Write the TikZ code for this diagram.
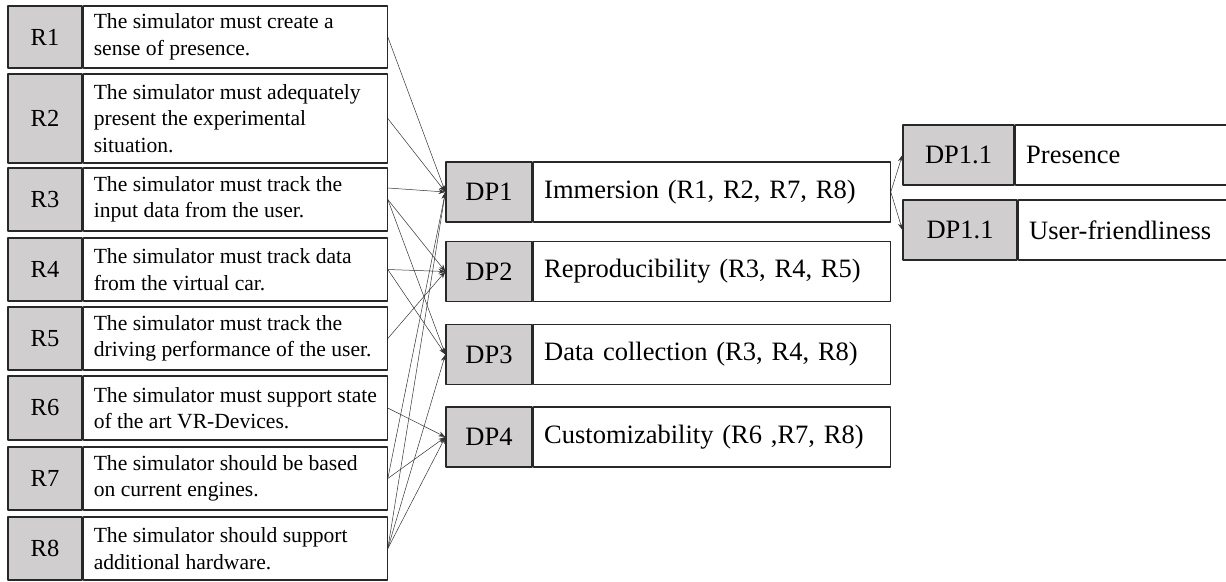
\documentclass[tikz,border=0pt]{standalone}
\usepackage{fontspec}
\setmainfont{Liberation Serif}
\usetikzlibrary{arrows.meta}
\definecolor{boxgray}{RGB}{208,206,206}
\definecolor{boxline}{RGB}{40,40,40}
\newcommand{\rfont}{\fontsize{24.5}{26}\selectfont}
\newcommand{\tfont}{\fontsize{21.6}{26.5}\selectfont}
\newcommand{\dpfont}{\fontsize{26.5}{30}\selectfont}
\tikzset{
  idbox/.style={draw=boxline, line width=1.2pt, fill=boxgray, inner sep=0pt},
  txtbox/.style={draw=boxline, line width=1.2pt, fill=white, inner xsep=11pt, inner ysep=0pt, align=left, anchor=west},
  reqtext/.style={inner sep=0pt, align=left, anchor=west, font=\tfont},
  link/.style={->, line width=0.5pt, draw=black!80},
}
\begin{document}
\begin{tikzpicture}[x=1pt, y=-1pt, >={Stealth[length=7pt,width=5pt]}, line join=round]
    \useasboundingbox (0,0) rectangle (1226,581);
    \clip (0,0) rectangle (1226,581);
    % requirements
    \foreach \i/\yc/\h/\txt in {
        1/37/62/{The simulator must create a\\sense of presence.},
        2/118.5/89/{The simulator must adequately\\present the experimental\\situation.},
        3/199.5/63/{The simulator must track the\\input data from the user.},
        4/269.5/63/{The simulator must track data\\from the virtual car.},
        5/338.5/63/{The simulator must track the\\driving performance of the user.},
        6/408/64/{The simulator must support state\\of the art VR-Devices.},
        7/478.5/63/{The simulator should be based\\on current engines.},
        8/548.5/63/{The simulator should support\\additional hardware.}}
    {
        \node[idbox, minimum width=74pt, minimum height=\h pt, font=\rfont] (R\i) at (45,\yc) {R\i};
        \node[txtbox, minimum width=304pt, minimum height=\h pt] (Rt\i) at (R\i.east) {};
        \node[reqtext] (Rx\i) at ([xshift=11pt]Rt\i.west) {\txt};
    }
    % design parameters
    \foreach \i/\yc/\txt in {
        1/192/{Immersion (R1, R2, R7, R8)},
        2/271.5/{Reproducibility (R3, R4, R5)},
        3/354.5/{Data collection (R3, R4, R8)},
        4/437/{Customizability (R6 ,R7, R8)}}
    {
        \node[idbox, minimum width=86pt, minimum height=60pt, font=\dpfont] (DP\i) at (489,\yc) {DP\i};
        \node[txtbox, minimum width=357pt, text width=335pt, minimum height=60pt, font=\dpfont] (DPt\i) at (DP\i.east) {\txt};
    }
    \node[idbox, minimum width=111pt, minimum height=60pt, font=\dpfont] (DPa) at (958.5,155) {DP1.1};
    \node[txtbox, minimum width=226pt, text width=204pt, minimum height=60pt, font=\dpfont] (DPta) at (DPa.east) {Presence};
    \node[idbox, minimum width=114pt, minimum height=60pt, font=\dpfont] (DPb) at (960,230) {DP1.1};
    \node[txtbox, minimum width=223pt, text width=201pt, minimum height=60pt, font=\dpfont] (DPtb) at (DPb.east) {User-friendliness};
    % links
    \draw[link] (Rt1.east) -- (DP1.west);
    \draw[link] (Rt2.east) -- (DP1.west);
    \draw[link] ([yshift=11.5pt]Rt3.east) -- (DP1.west);
    \draw[link] (Rt7.east) -- (DP1.west);
    \draw[link] (Rt8.east) -- (DP1.west);
    \draw[link] (Rt3.east) -- (DP2.west);
    \draw[link] (Rt4.east) -- (DP2.west);
    \draw[link] (Rt5.east) -- (DP2.west);
    \draw[link] (Rt3.east) -- (DP3.west);
    \draw[link] (Rt4.east) -- (DP3.west);
    \draw[link] (Rt8.east) -- (DP3.west);
    \draw[link] (Rt6.east) -- (DP4.west);
    \draw[link] (Rt7.east) -- (DP4.west);
    \draw[link] (Rt8.east) -- (DP4.west);
    \draw[link] (DPt1.east) -- (DPa.west);
    \draw[link] (DPt1.east) -- (DPb.west);
\end{tikzpicture}
\end{document}
